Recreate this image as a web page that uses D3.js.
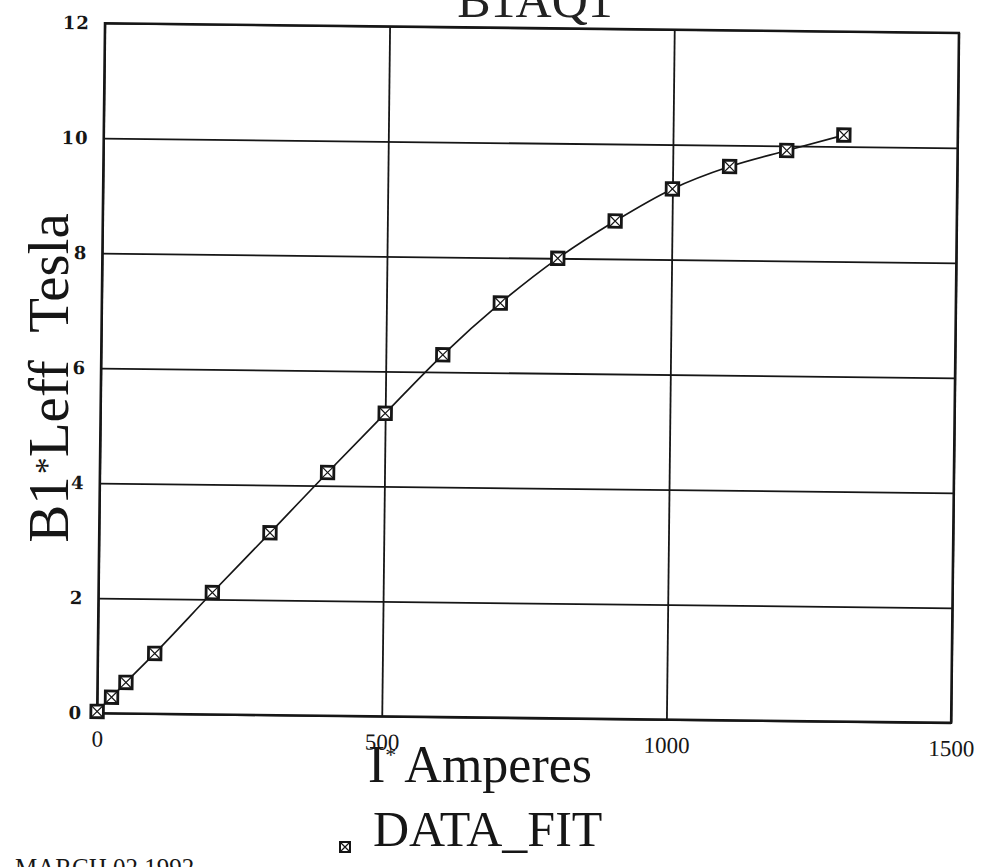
<!DOCTYPE html>
<html>
<head>
<meta charset="utf-8">
<script src="https://cdn.jsdelivr.net/npm/d3@7"></script>
<style>
  body { margin: 0; background: #fff; }
</style>
</head>
<body>
<div id="chart"></div>
<script>
// data: current (A) vs integrated field B1*Leff (T)
const current = [0, 25, 50, 100, 200, 300, 400, 500, 600, 700, 800, 900, 1000, 1100, 1200, 1300];
const field = [0.03, 0.28, 0.54, 1.05, 2.12, 3.17, 4.23, 5.27, 6.3, 7.21, 8.0, 8.66, 9.23, 9.63, 9.92, 10.2];
const xTicks = [0, 500, 1000, 1500];
const yTicks = [0, 2, 4, 6, 8, 10, 12];

function drawChart() {
  const width = 989;
  const height = 867;
  // plot box (before the slight scan tilt)
  const L = 101, R = 955, T = 28, B = 718;
  const ink = "#161616";

  const x = d3.scaleLinear().domain([0, 1500]).range([L, R]);
  const y = d3.scaleLinear().domain([0, 12]).range([B, T]);

  const svg = d3.select("#chart")
    .append("svg")
    .attr("width", width)
    .attr("height", height)
    .attr("viewBox", [0, 0, width, height]);

  svg.append("rect").attr("width", width).attr("height", height).attr("fill", "#fff");

  // the scanned page is rotated a little, so tilt the plot group
  const g = svg.append("g").attr("transform", "rotate(0.65, 528, 373)");

  // y axis with full-width grid lines
  const yAxis = g.append("g")
    .attr("transform", `translate(${L},0)`)
    .call(d3.axisLeft(y).tickValues(yTicks).tickFormat(d3.format("d"))
      .tickSizeInner(-(R - L)).tickSizeOuter(0).tickPadding(15));
  yAxis.select(".domain").remove();
  yAxis.selectAll("line").attr("stroke", ink).attr("stroke-width", 1.8);
  yAxis.selectAll("text")
    .attr("fill", ink)
    .style("font-family", "'DejaVu Serif', serif")
    .style("font-weight", "bold")
    .style("font-size", "18px")
    .style("letter-spacing", "1px");

  // x axis with full-height grid lines
  const xAxis = g.append("g")
    .attr("transform", `translate(0,${B})`)
    .call(d3.axisBottom(x).tickValues(xTicks).tickFormat(d3.format("d"))
      .tickSizeInner(-(B - T)).tickSizeOuter(0).tickPadding(17));
  xAxis.select(".domain").remove();
  xAxis.selectAll("line").attr("stroke", ink).attr("stroke-width", 1.8);
  xAxis.selectAll("text")
    .attr("fill", ink)
    .style("font-family", "'Liberation Serif', 'Times New Roman', serif")
    .style("font-size", "23px");

  // frame
  g.append("rect")
    .attr("x", L).attr("y", T)
    .attr("width", R - L).attr("height", B - T)
    .attr("fill", "none")
    .attr("stroke", ink)
    .attr("stroke-width", 2.4);

  // fit curve
  const pts = current.map((c, i) => [c, field[i]]);
  const line = d3.line()
    .x((d) => x(d[0]))
    .y((d) => y(d[1]))
    .curve(d3.curveMonotoneX);
  g.append("path")
    .datum(pts)
    .attr("d", line)
    .attr("fill", "none")
    .attr("stroke", ink)
    .attr("stroke-width", 1.7);

  // boxed-x markers
  function marker(sel, s, w) {
    sel.append("rect")
      .attr("x", -s / 2).attr("y", -s / 2)
      .attr("width", s).attr("height", s)
      .attr("fill", "#fff")
      .attr("stroke", ink)
      .attr("stroke-width", w);
    sel.append("path")
      .attr("d", `M${-s / 2},${-s / 2}L${s / 2},${s / 2}M${s / 2},${-s / 2}L${-s / 2},${s / 2}`)
      .attr("stroke", ink)
      .attr("stroke-width", 1.2);
  }
  g.append("g")
    .selectAll("g")
    .data(pts)
    .join("g")
    .attr("transform", (d) => `translate(${x(d[0])},${y(d[1])})`)
    .each(function () { marker(d3.select(this), 12.5, 2.8); });

  const serif = "'Liberation Serif', 'Times New Roman', serif";

  // title (cut off by the top of the page)
  svg.append("text")
    .attr("x", 535).attr("y", 17)
    .attr("text-anchor", "middle")
    .attr("fill", "#222")
    .style("font-family", serif)
    .style("font-size", "50px")
    .text("B1AQ1");

  // y title
  const yt = svg.append("text")
    .attr("transform", "translate(68,378) rotate(-90)")
    .attr("text-anchor", "middle")
    .attr("fill", ink)
    .style("font-family", serif)
    .style("font-size", "57px")
    .style("white-space", "pre");
  yt.append("tspan").text("B1");
  yt.append("tspan").attr("dy", -10).attr("dx", 2).style("font-size", "34px").text("*");
  yt.append("tspan").attr("dy", 10).text("Leff  Tesla");

  // x title
  const xt = svg.append("text")
    .attr("x", 368).attr("y", 782)
    .attr("fill", ink)
    .style("font-family", serif)
    .style("font-size", "52px");
  xt.append("tspan").text("I");
  xt.append("tspan").attr("dy", -20).style("font-size", "22px").text("*");
  xt.append("tspan").attr("dy", 20).attr("dx", 8).text("Amperes");

  // legend
  const lg = svg.append("g").attr("transform", "translate(345,847)");
  marker(lg, 10, 2);
  svg.append("text")
    .attr("x", 373).attr("y", 846)
    .attr("fill", ink)
    .style("font-family", serif)
    .style("font-size", "50px")
    .text("DATA_FIT");

  // date stamp, cut off at the bottom
  svg.append("text")
    .attr("x", 15).attr("y", 876)
    .attr("fill", ink)
    .style("font-family", serif)
    .style("font-size", "25px")
    .text("MARCH 02 1992");

  return svg.node();
}

window.onload = function () {
  drawChart();
};
</script>
</body>
</html>
